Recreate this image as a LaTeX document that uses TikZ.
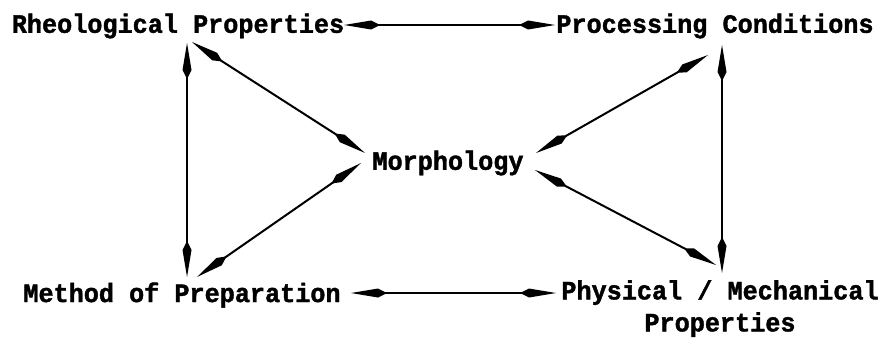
\documentclass[tikz,border=0pt]{standalone}
\usepackage{fontspec}
\newfontfamily\twfont[FakeBold=1.5,FakeStretch=0.95]{Liberation Mono Bold}
\usetikzlibrary{arrows.meta}
\begin{document}
\begin{tikzpicture}[x=1pt,y=-1pt,
  lbl/.style={font=\twfont\fontsize{26.5}{32}\selectfont, inner sep=0pt, text=black, align=center},
  tipk/.tip={Kite[length=36pt,width=9pt,inset=9pt]},
  conn/.style={line width=2pt, {tipk}-{tipk}}]
\useasboundingbox (0,0) rectangle (888,345);
\node[lbl] (rp) at (178,26) {Rheological Properties};
\node[lbl] (pc) at (715,26) {Processing Conditions};
\node[lbl] (mo) at (448,163) {Morphology};
\node[lbl] (mp) at (182,295) {Method of Preparation};
\node[lbl, anchor=north] (pm) at (720,280) {Physical / Mechanical\\Properties};
% endpoints
\coordinate (a1) at (344,25); \coordinate (a2) at (555,25);
\coordinate (b1) at (351,293); \coordinate (b2) at (556,293);
\coordinate (c1) at (187,43); \coordinate (c2) at (187,277);
\coordinate (d1) at (192,42); \coordinate (d2) at (365,153);
\coordinate (e1) at (197,277); \coordinate (e2) at (361,163);
\coordinate (f1) at (722,45); \coordinate (f2) at (722,273);
\coordinate (g1) at (708,55); \coordinate (g2) at (536,153);
\coordinate (h1) at (716,265); \coordinate (h2) at (535,170);
\draw[conn] (a1) -- (a2);
\draw[conn] (b1) -- (b2);
\draw[conn] (c1) -- (c2);
\draw[conn] (d1) -- (d2);
\draw[conn] (e1) -- (e2);
\draw[conn] (f1) -- (f2);
\draw[conn] (g1) -- (g2);
\draw[conn] (h1) -- (h2);
\end{tikzpicture}
\end{document}
